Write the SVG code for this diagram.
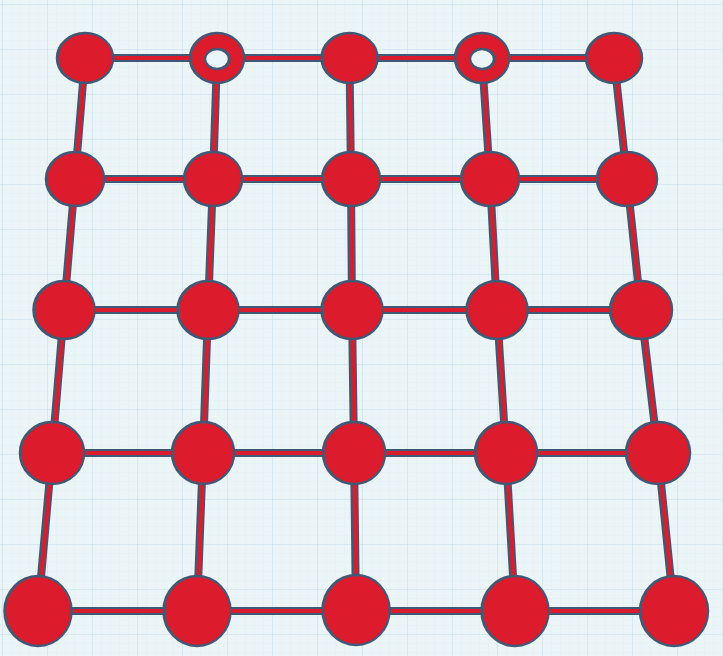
<svg xmlns="http://www.w3.org/2000/svg" xmlns:xlink="http://www.w3.org/1999/xlink" width="723" height="656" viewBox="0 0 723 656">
<style>
.node{fill:#DC1C2D;stroke:#3E5A76;stroke-width:2.5}
.hole{fill:#EBF4F7;stroke:#3E5A76;stroke-width:2.5}
.edge-out{fill:none;stroke:#3E5A76;stroke-width:8}
.edge-in{fill:none;stroke:#DC1C2D;stroke-width:4.2}
</style>
<defs>
<pattern id="minor" width="9" height="9" patternUnits="userSpaceOnUse" x="3" y="5">
<path d="M9 0V9M0 9H9" fill="none" stroke="#DBEBF1" stroke-width="0.5"/>
</pattern>
<pattern id="major" width="45" height="45" patternUnits="userSpaceOnUse" x="3" y="5">
<path d="M45 0V45M0 45H45" fill="none" stroke="#C6E0EA" stroke-width="1"/>
</pattern>
<path id="edges" d="M85 58H217M217 58H349.5M349.5 58H482M482 58H614
M75 179H213M213 179H351M351 179H490M490 179H627
M64 310H208M208 310H352M352 310H497M497 310H641
M52 453H203M203 453H354M354 453H506M506 453H658
M38 611H197M197 611H356M356 611H515M515 611H674
M85 58L75 179L64 310L52 453L38 611
M217 58L213 179L208 310L203 453L197 611
M349.5 58L351 179L352 310L354 453L356 611
M482 58L490 179L497 310L506 453L515 611
M614 58L627 179L641 310L658 453L674 611"/>
</defs>
<rect width="723" height="656" fill="#EBF4F7"/>
<rect width="723" height="656" fill="url(#minor)"/>
<rect width="723" height="656" fill="url(#major)"/>
<g id="connectors">
<use xlink:href="#edges" class="edge-out"/>
<use xlink:href="#edges" class="edge-in"/>
</g>
<g id="n-0-0"><ellipse class="node" cx="85" cy="58" rx="28" ry="25"/></g>
<g id="n-0-1"><ellipse class="node" cx="217" cy="58" rx="27" ry="25"/><ellipse class="hole" cx="217" cy="59" rx="12" ry="10"/></g>
<g id="n-0-2"><ellipse class="node" cx="349.5" cy="58" rx="28" ry="25"/></g>
<g id="n-0-3"><ellipse class="node" cx="482" cy="58" rx="27" ry="25"/><ellipse class="hole" cx="482" cy="59" rx="12" ry="10"/></g>
<g id="n-0-4"><ellipse class="node" cx="614" cy="58" rx="28" ry="25"/></g>
<g id="n-1-0"><ellipse class="node" cx="75" cy="179" rx="29" ry="27"/></g>
<g id="n-1-1"><ellipse class="node" cx="213" cy="179" rx="29" ry="27"/></g>
<g id="n-1-2"><ellipse class="node" cx="351" cy="179" rx="29" ry="27"/></g>
<g id="n-1-3"><ellipse class="node" cx="490" cy="179" rx="29" ry="27"/></g>
<g id="n-1-4"><ellipse class="node" cx="627" cy="179" rx="30" ry="27"/></g>
<g id="n-2-0"><ellipse class="node" cx="64" cy="310" rx="30.5" ry="29"/></g>
<g id="n-2-1"><ellipse class="node" cx="208" cy="310" rx="30.5" ry="29"/></g>
<g id="n-2-2"><ellipse class="node" cx="352" cy="310" rx="30.5" ry="29"/></g>
<g id="n-2-3"><ellipse class="node" cx="497" cy="310" rx="30.5" ry="29"/></g>
<g id="n-2-4"><ellipse class="node" cx="641" cy="310" rx="31" ry="29"/></g>
<g id="n-3-0"><ellipse class="node" cx="52" cy="453" rx="32" ry="31"/></g>
<g id="n-3-1"><ellipse class="node" cx="203" cy="453" rx="31" ry="31"/></g>
<g id="n-3-2"><ellipse class="node" cx="354" cy="453" rx="31" ry="31"/></g>
<g id="n-3-3"><ellipse class="node" cx="506" cy="453" rx="31" ry="31"/></g>
<g id="n-3-4"><ellipse class="node" cx="658" cy="453" rx="32" ry="31"/></g>
<g id="n-4-0"><ellipse class="node" cx="38" cy="611" rx="33.5" ry="35"/></g>
<g id="n-4-1"><ellipse class="node" cx="197" cy="611" rx="33.5" ry="35"/></g>
<g id="n-4-2"><ellipse class="node" cx="356" cy="610" rx="33.5" ry="35"/></g>
<g id="n-4-3"><ellipse class="node" cx="515" cy="611" rx="33.5" ry="35"/></g>
<g id="n-4-4"><ellipse class="node" cx="674" cy="611" rx="34" ry="35"/></g>
</svg>
